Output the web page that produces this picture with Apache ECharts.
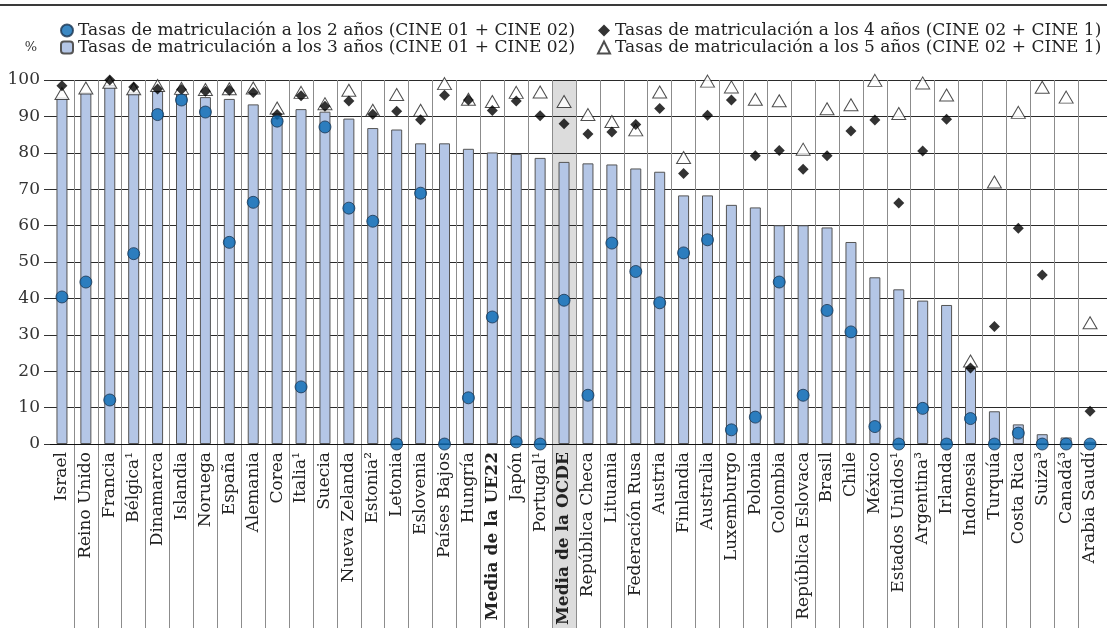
<!DOCTYPE html>
<html>
<head>
<meta charset="utf-8">
<script src="https://cdn.jsdelivr.net/npm/echarts@6/dist/echarts.min.js"></script>
<style>
html,body{margin:0;padding:0;background:#fff;}
#chart{width:1107px;height:628px;}
</style>
</head>
<body>
<div id="chart"></div>
<script>
let paises = ['Israel','Reino Unido','Francia','Bélgica¹','Dinamarca','Islandia','Noruega','España','Alemania','Corea',
  'Italia¹','Suecia','Nueva Zelanda','Estonia²','Letonia','Eslovenia','Países Bajos','Hungría','Media de la UE22','Japón',
  'Portugal¹','Media de la OCDE','República Checa','Lituania','Federación Rusa','Austria','Finlandia','Australia','Luxemburgo','Polonia',
  'Colombia','República Eslovaca','Brasil','Chile','México','Estados Unidos¹','Argentina³','Irlanda','Indonesia','Turquía',
  'Costa Rica','Suiza³','Canadá³','Arabia Saudí'];

// 3 años (barras)
let tres = [95.2,96.6,98.6,96.6,97.0,96.3,95.3,94.8,93.3,89.5,
  92.0,91.3,89.4,86.8,86.4,82.6,82.6,81.1,80.1,79.7,
  78.6,77.5,77.1,76.8,75.7,74.8,68.3,68.3,65.7,65.0,
  60.1,60.1,59.5,55.5,45.8,42.5,39.4,38.2,20.9,9.0,
  5.4,2.7,1.8,0.6];
// 2 años (circulos)
let dos = [40.4,44.5,12.1,52.3,90.5,94.5,91.2,55.4,66.4,88.7,
  15.7,87.1,64.8,61.2,0,68.9,0,12.7,34.9,0.6,
  0,39.5,13.4,55.2,47.4,38.8,52.5,56.1,3.9,7.4,
  44.5,13.4,36.7,30.8,4.8,0,9.8,0,7.0,0,
  3.0,0,0,0];
// 4 años (rombos)
let cuatro = [98.4,null,100,98.1,97.5,97.4,96.9,97.2,96.6,90.5,
  95.7,92.8,94.2,90.6,91.4,89.1,95.8,94.5,91.6,94.2,
  90.2,88.0,85.2,85.7,87.8,92.2,74.3,90.3,94.5,79.2,
  80.6,75.5,79.2,86.0,89.0,66.2,80.5,89.2,20.9,32.3,
  59.3,46.4,null,9.0];
// 5 años (triangulos)
let cinco = [96.3,97.8,99.4,97.6,98.5,97.7,97.4,97.6,97.8,92.3,
  96.6,93.5,97.2,91.7,96.0,91.7,99.0,94.7,94.1,96.6,
  96.7,94.1,90.5,88.6,86.3,96.7,78.7,99.7,98.1,94.7,
  94.3,81.0,92.1,93.2,99.9,90.8,99.2,95.9,22.8,72.0,
  91.1,98.0,95.3,33.3];

let L2 = 'Tasas de matriculación a los 2 años (CINE 01 + CINE 02)';
let L3 = 'Tasas de matriculación a los 3 años (CINE 01 + CINE 02)';
let L4 = 'Tasas de matriculación a los 4 años (CINE 02 + CINE 1)';
let L5 = 'Tasas de matriculación a los 5 años (CINE 02 + CINE 1)';

let negrita = ['Media de la UE22','Media de la OCDE'];
let sombra = paises.map(p => p === 'Media de la OCDE' ? 1 : null);

let font = 'DejaVu Serif';
let chart = echarts.init(document.getElementById('chart'));
chart.setOption({
  animation:false,
  textStyle:{fontFamily:font},
  graphic:[{
    type:'line',
    shape:{x1:0,y1:5,x2:1107,y2:5},
    style:{stroke:'#3a3a3a',lineWidth:2}
  }],
  legend:[
    {data:[L2,L3],left:55,top:17,orient:'vertical',itemGap:0,itemWidth:12,itemHeight:12,
     textStyle:{fontFamily:font,fontSize:17,color:'#222',lineHeight:16}},
    {data:[L4,L5],left:592,top:17,orient:'vertical',itemGap:0,itemWidth:12,itemHeight:12,
     textStyle:{fontFamily:font,fontSize:17,color:'#222',lineHeight:16}}
  ],
  grid:[
    {left:50,right:5,top:80,bottom:176},
    {left:50,right:5,top:80,bottom:0}
  ],
  xAxis:[
    {type:'category',data:paises,gridIndex:0,z:1,
     axisLine:{lineStyle:{color:'#111',width:1}},
     axisTick:{show:false},
     splitLine:{show:false},
     axisLabel:{interval:0,rotate:90,margin:8,fontSize:17,color:'#222',fontFamily:font,
       formatter:v => negrita.includes(v) ? '{b|' + v + '}' : v,
       rich:{b:{fontWeight:'bold',fontSize:17,fontFamily:font,color:'#222'}}}},
    {type:'category',data:paises,gridIndex:1,z:1,
     axisLine:{show:false},axisTick:{show:false},axisLabel:{show:false},
     splitLine:{show:true,interval:0,showMinLine:false,showMaxLine:false,
       lineStyle:{color:'#8c8c8c',width:1}}}
  ],
  yAxis:[
    {type:'value',gridIndex:0,min:0,max:100,interval:10,z:1,
     name:'%',nameLocation:'end',nameGap:26,
     nameTextStyle:{fontFamily:font,fontSize:13,color:'#333',align:'right',padding:[0,13,0,0]},
     axisLine:{show:false},
     axisTick:{show:true,length:6,lineStyle:{color:'#333'}},
     axisLabel:{margin:10,fontSize:17,color:'#333',fontFamily:font},
     splitLine:{show:true,lineStyle:{color:'#2a2a2a',width:1}}},
    {type:'value',gridIndex:0,position:'right',min:0,max:100,interval:10,z:1,
     axisLine:{show:false},axisLabel:{show:false},splitLine:{show:false},
     axisTick:{show:true,length:5,lineStyle:{color:'#2a2a2a'}}},
    {type:'value',gridIndex:1,min:0,max:1,show:false}
  ],
  series:[
    {name:'sombra',type:'bar',xAxisIndex:1,yAxisIndex:2,data:sombra,barWidth:'100%',
     itemStyle:{color:'#dcdcdc'},z:0,silent:true},
    {name:L3,type:'bar',data:tres,barWidth:11,
     itemStyle:{color:'#b4c6e6',borderColor:'#555',borderWidth:1},z:2},
    {name:L5,type:'scatter',symbol:'triangle',symbolSize:[14,12],data:cinco,
     itemStyle:{color:'#fff',borderColor:'#222',borderWidth:1},z:3},
    {name:L4,type:'scatter',symbol:'diamond',symbolSize:11,data:cuatro,
     itemStyle:{color:'#000'},z:4},
    {name:L2,type:'scatter',symbol:'circle',symbolSize:12,data:dos,
     itemStyle:{color:'#0a6ab4',borderColor:'#1b3550',borderWidth:1},z:5}
  ]
});
</script>
</body>
</html>
